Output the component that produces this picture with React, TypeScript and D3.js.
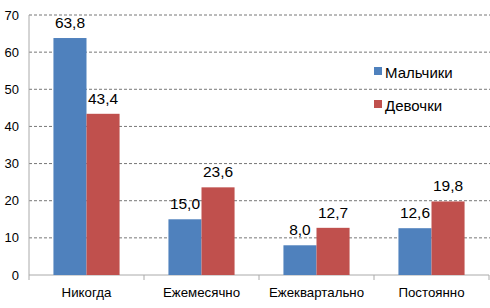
import React from "react";
import * as d3 from "d3";

const categories = ["Никогда", "Ежемесячно", "Ежеквартально", "Постоянно"];
const seriesNames = ["Мальчики", "Девочки"];
const boys = [63.8, 15.0, 8.0, 12.6];
const girls = [43.4, 23.6, 12.7, 19.8];
const yTicks = [0, 10, 20, 30, 40, 50, 60, 70];
const colors = ["#4F81BD", "#C0504D"];

const W = 490, H = 308;
const left = 29, right = 489, top = 15, bottom = 275;

export default function App() {
  const x = d3.scaleBand<string>().domain(categories).range([left, right]).paddingInner(0).paddingOuter(0);
  const y = d3.scaleLinear().domain([0, 70]).range([bottom, top]);
  const groupW = x.bandwidth() * 0.575;
  const sub = d3.scaleBand<number>().domain([0, 1]).range([0, groupW]);
  const series = [boys, girls];
  const fmt = (v: number) => v.toFixed(1).replace(".", ",");
  const font = "Liberation Sans, Arial, sans-serif";

  return (
    <svg width={W} height={H} style={{ position: "absolute", left: 0, top: 0, background: "#fff" }} fontFamily={font}>
      {yTicks.filter(t => t > 0).map(t => (
        <line key={t} x1={left} x2={W} y1={y(t)} y2={y(t)} stroke="#777" strokeDasharray="3,2" strokeWidth={1} />
      ))}
      <line x1={left} x2={left} y1={top} y2={bottom} stroke="#aaa" />
      <line x1={left} x2={right} y1={bottom} y2={bottom} stroke="#aaa" />
      {categories.map((c, i) => (
        <line key={"t" + i} x1={(x(c) as number) + x.bandwidth()} x2={(x(c) as number) + x.bandwidth()} y1={bottom} y2={bottom + 5} stroke="#aaa" />
      ))}
      <line x1={left} x2={left} y1={bottom} y2={bottom + 5} stroke="#aaa" />
      {yTicks.map(t => (
        <text key={"yl" + t} x={19} y={y(t) + 4.5} textAnchor="end" fontSize={13} fill="#000">{t}</text>
      ))}
      {series.map((vals, s) =>
        categories.map((c, i) => {
          const bx = (x(c) as number) + (x.bandwidth() - groupW) / 2 + (sub(s) as number);
          return (
            <g key={s + "-" + i}>
              <rect x={bx} y={y(vals[i])} width={sub.bandwidth()} height={bottom - y(vals[i])} fill={colors[s]} />
              <text x={bx + sub.bandwidth() / 2} y={Math.max(y(vals[i]) - 10, 27)} textAnchor="middle" fontSize={15.5} fill="#000">{fmt(vals[i])}</text>
            </g>
          );
        })
      )}
      {categories.map(c => (
        <text key={"cl" + c} x={(x(c) as number) + x.bandwidth() / 2} y={297} textAnchor="middle" fontSize={13.3} fill="#000">{c}</text>
      ))}
      {seriesNames.map((n, i) => (
        <g key={"lg" + i}>
          <rect x={374} y={67 + i * 33} width={8} height={8} fill={colors[i]} />
          <text x={385} y={78 + i * 33} fontSize={15} fill="#000">{n}</text>
        </g>
      ))}
    </svg>
  );
}
